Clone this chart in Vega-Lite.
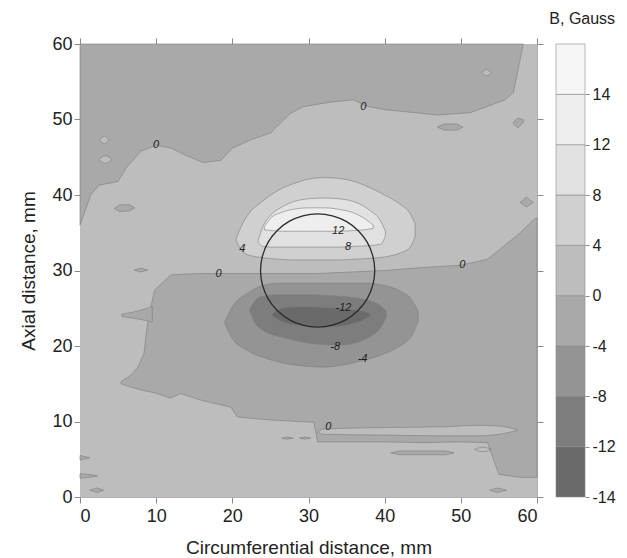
{
  "$schema": "https://vega.github.io/schema/vega-lite/v6.json",
  "padding": {"left": 19, "top": 11, "right": 5, "bottom": 0},
  "bounds": "flush",
  "spacing": 19,
  "title": {"text": "B, Gauss", "anchor": "end", "fontSize": 16, "fontWeight": "normal", "color": "#222", "offset": 8},
  "config": {
    "font": "Liberation Sans",
    "view": {"stroke": null},
    "axis": {"grid": false, "tickSize": 6, "tickColor": "#8a8a8a", "domainColor": "#9a9a9a", "domainWidth": 0.8, "labelFontSize": 18, "labelColor": "#222", "titleFontSize": 19, "titleFontWeight": "normal", "titleColor": "#222", "labelPadding": 2}
  },
  "datasets": {
    "regions": [
      {"id":"top","L":1,"b":"-4..0","x":0,"lo":36,"hi":60},
      {"id":"top","L":1,"b":"-4..0","x":1.4,"lo":40,"hi":60},
      {"id":"top","L":1,"b":"-4..0","x":2.5,"lo":41.3,"hi":60},
      {"id":"top","L":1,"b":"-4..0","x":5,"lo":41.8,"hi":60},
      {"id":"top","L":1,"b":"-4..0","x":6,"lo":43.5,"hi":60},
      {"id":"top","L":1,"b":"-4..0","x":8,"lo":45.8,"hi":60},
      {"id":"top","L":1,"b":"-4..0","x":10,"lo":46.6,"hi":60},
      {"id":"top","L":1,"b":"-4..0","x":12,"lo":46.2,"hi":60},
      {"id":"top","L":1,"b":"-4..0","x":14,"lo":45.2,"hi":60},
      {"id":"top","L":1,"b":"-4..0","x":16.2,"lo":44.3,"hi":60},
      {"id":"top","L":1,"b":"-4..0","x":18.5,"lo":44.6,"hi":60},
      {"id":"top","L":1,"b":"-4..0","x":20,"lo":46.2,"hi":60},
      {"id":"top","L":1,"b":"-4..0","x":22.4,"lo":47.3,"hi":60},
      {"id":"top","L":1,"b":"-4..0","x":25,"lo":48.2,"hi":60},
      {"id":"top","L":1,"b":"-4..0","x":27.6,"lo":50.8,"hi":60},
      {"id":"top","L":1,"b":"-4..0","x":29.3,"lo":51.7,"hi":60},
      {"id":"top","L":1,"b":"-4..0","x":32.9,"lo":52.3,"hi":60},
      {"id":"top","L":1,"b":"-4..0","x":35.9,"lo":52.6,"hi":60},
      {"id":"top","L":1,"b":"-4..0","x":37.5,"lo":51.8,"hi":60},
      {"id":"top","L":1,"b":"-4..0","x":40,"lo":51.3,"hi":60},
      {"id":"top","L":1,"b":"-4..0","x":43,"lo":51.0,"hi":60},
      {"id":"top","L":1,"b":"-4..0","x":46.9,"lo":50.6,"hi":60},
      {"id":"top","L":1,"b":"-4..0","x":51.2,"lo":50.9,"hi":60},
      {"id":"top","L":1,"b":"-4..0","x":53.4,"lo":51.7,"hi":60},
      {"id":"top","L":1,"b":"-4..0","x":55.8,"lo":52.6,"hi":60},
      {"id":"top","L":1,"b":"-4..0","x":56.9,"lo":53.6,"hi":60},
      {"id":"top","L":1,"b":"-4..0","x":57.8,"lo":58,"hi":60},
      {"id":"top","L":1,"b":"-4..0","x":58.2,"lo":60,"hi":60},

      {"id":"mid","L":1,"b":"-4..0","x":5.4,"lo":15.0,"hi":15.3},
      {"id":"mid","L":1,"b":"-4..0","x":6.5,"lo":14.6,"hi":16.0},
      {"id":"mid","L":1,"b":"-4..0","x":7.6,"lo":14.3,"hi":17.2},
      {"id":"mid","L":1,"b":"-4..0","x":8.4,"lo":14.1,"hi":19.0},
      {"id":"mid","L":1,"b":"-4..0","x":8.8,"lo":14.0,"hi":22.5},
      {"id":"mid","L":1,"b":"-4..0","x":9.3,"lo":13.9,"hi":25.2},
      {"id":"mid","L":1,"b":"-4..0","x":9.8,"lo":13.8,"hi":27.4},
      {"id":"mid","L":1,"b":"-4..0","x":11.9,"lo":13.1,"hi":29.4},
      {"id":"mid","L":1,"b":"-4..0","x":13.2,"lo":13.7,"hi":29.5},
      {"id":"mid","L":1,"b":"-4..0","x":16,"lo":12.8,"hi":29.6},
      {"id":"mid","L":1,"b":"-4..0","x":19.8,"lo":11.9,"hi":29.6},
      {"id":"mid","L":1,"b":"-4..0","x":20.7,"lo":10.6,"hi":29.6},
      {"id":"mid","L":1,"b":"-4..0","x":25,"lo":10.2,"hi":29.6},
      {"id":"mid","L":1,"b":"-4..0","x":30.7,"lo":9.9,"hi":29.6},
      {"id":"mid","L":1,"b":"-4..0","x":31.2,"lo":7.3,"hi":29.6},
      {"id":"mid","L":1,"b":"-4..0","x":40,"lo":7.3,"hi":30.0},
      {"id":"mid","L":1,"b":"-4..0","x":45,"lo":7.2,"hi":30.4},
      {"id":"mid","L":1,"b":"-4..0","x":50,"lo":7.3,"hi":30.7},
      {"id":"mid","L":1,"b":"-4..0","x":53.5,"lo":7.2,"hi":31.5},
      {"id":"mid","L":1,"b":"-4..0","x":55,"lo":3.0,"hi":32.7},
      {"id":"mid","L":1,"b":"-4..0","x":57.8,"lo":2.6,"hi":35.0},
      {"id":"mid","L":1,"b":"-4..0","x":59.5,"lo":2.6,"hi":36.7},
      {"id":"mid","L":1,"b":"-4..0","x":60,"lo":2.6,"hi":37.0},

      {"id":"spike","L":1,"b":"-4..0","x":5.5,"lo":23.9,"hi":24.2},
      {"id":"spike","L":1,"b":"-4..0","x":7.5,"lo":23.6,"hi":24.6},
      {"id":"spike","L":1,"b":"-4..0","x":9.5,"lo":23.2,"hi":25.2},

      {"id":"p1","L":1,"b":"-4..0","x":4.5,"lo":38.2,"hi":38.2},
      {"id":"p1","L":1,"b":"-4..0","x":5.2,"lo":37.8,"hi":38.7},
      {"id":"p1","L":1,"b":"-4..0","x":6.5,"lo":37.9,"hi":38.7},
      {"id":"p1","L":1,"b":"-4..0","x":7.2,"lo":38.3,"hi":38.3},
      {"id":"p2","L":1,"b":"-4..0","x":46.9,"lo":49.0,"hi":49.0},
      {"id":"p2","L":1,"b":"-4..0","x":47.8,"lo":48.6,"hi":49.4},
      {"id":"p2","L":1,"b":"-4..0","x":49.5,"lo":48.6,"hi":49.4},
      {"id":"p2","L":1,"b":"-4..0","x":50.3,"lo":49.0,"hi":49.0},
      {"id":"p3","L":1,"b":"-4..0","x":56.9,"lo":49.4,"hi":49.6},
      {"id":"p3","L":1,"b":"-4..0","x":57.5,"lo":48.9,"hi":50.2},
      {"id":"p3","L":1,"b":"-4..0","x":58.2,"lo":49.6,"hi":50.0},
      {"id":"p4","L":1,"b":"-4..0","x":40.8,"lo":5.85,"hi":5.85},
      {"id":"p4","L":1,"b":"-4..0","x":42,"lo":5.6,"hi":6.1},
      {"id":"p4","L":1,"b":"-4..0","x":48,"lo":5.6,"hi":6.1},
      {"id":"p4","L":1,"b":"-4..0","x":49.1,"lo":5.85,"hi":5.85},
      {"id":"p5","L":1,"b":"-4..0","x":53.8,"lo":0.9,"hi":0.9},
      {"id":"p5","L":1,"b":"-4..0","x":54.8,"lo":0.6,"hi":1.2},
      {"id":"p5","L":1,"b":"-4..0","x":56,"lo":0.9,"hi":0.9},
      {"id":"p6","L":1,"b":"-4..0","x":0,"lo":2.5,"hi":3.1},
      {"id":"p6","L":1,"b":"-4..0","x":1.2,"lo":2.6,"hi":3.0},
      {"id":"p6","L":1,"b":"-4..0","x":2.3,"lo":2.8,"hi":2.8},
      {"id":"p7","L":1,"b":"-4..0","x":1.3,"lo":0.9,"hi":0.9},
      {"id":"p7","L":1,"b":"-4..0","x":2.2,"lo":0.6,"hi":1.2},
      {"id":"p7","L":1,"b":"-4..0","x":3.1,"lo":0.9,"hi":0.9},
      {"id":"p8","L":1,"b":"-4..0","x":0,"lo":4.9,"hi":5.5},
      {"id":"p8","L":1,"b":"-4..0","x":1.3,"lo":5.2,"hi":5.2},
      {"id":"p9","L":1,"b":"-4..0","x":7.1,"lo":30.05,"hi":30.05},
      {"id":"p9","L":1,"b":"-4..0","x":8,"lo":29.8,"hi":30.3},
      {"id":"p9","L":1,"b":"-4..0","x":8.9,"lo":30.05,"hi":30.05},
      {"id":"p10","L":1,"b":"-4..0","x":57.8,"lo":39,"hi":39},
      {"id":"p10","L":1,"b":"-4..0","x":58.6,"lo":38.4,"hi":39.7},
      {"id":"p10","L":1,"b":"-4..0","x":59.5,"lo":39,"hi":39},
      {"id":"p11","L":1,"b":"-4..0","x":26.5,"lo":7.8,"hi":7.8},
      {"id":"p11","L":1,"b":"-4..0","x":27.2,"lo":7.65,"hi":7.95},
      {"id":"p11","L":1,"b":"-4..0","x":28,"lo":7.8,"hi":7.8},
      {"id":"p12","L":1,"b":"-4..0","x":28.8,"lo":7.8,"hi":7.8},
      {"id":"p12","L":1,"b":"-4..0","x":29.5,"lo":7.65,"hi":7.95},
      {"id":"p12","L":1,"b":"-4..0","x":30.3,"lo":7.8,"hi":7.8},

      {"id":"ls","L":2,"b":"0..4","x":31.2,"lo":8.6,"hi":8.6},
      {"id":"ls","L":2,"b":"0..4","x":32,"lo":8.3,"hi":9.0},
      {"id":"ls","L":2,"b":"0..4","x":40,"lo":8.2,"hi":9.2},
      {"id":"ls","L":2,"b":"0..4","x":48,"lo":8.1,"hi":9.3},
      {"id":"ls","L":2,"b":"0..4","x":52,"lo":8.1,"hi":9.5},
      {"id":"ls","L":2,"b":"0..4","x":55,"lo":8.3,"hi":9.4},
      {"id":"ls","L":2,"b":"0..4","x":57.4,"lo":8.8,"hi":8.9},
      {"id":"lp1","L":2,"b":"0..4","x":2.6,"lo":47.3,"hi":47.3},
      {"id":"lp1","L":2,"b":"0..4","x":3.2,"lo":46.8,"hi":47.8},
      {"id":"lp1","L":2,"b":"0..4","x":3.8,"lo":47.3,"hi":47.3},
      {"id":"lp2","L":2,"b":"0..4","x":2.5,"lo":44.7,"hi":44.7},
      {"id":"lp2","L":2,"b":"0..4","x":3.3,"lo":44.2,"hi":45.2},
      {"id":"lp2","L":2,"b":"0..4","x":4.2,"lo":44.7,"hi":44.7},
      {"id":"lp3","L":2,"b":"0..4","x":52.7,"lo":56.2,"hi":56.2},
      {"id":"lp3","L":2,"b":"0..4","x":53.4,"lo":55.8,"hi":56.6},
      {"id":"lp3","L":2,"b":"0..4","x":54,"lo":56.2,"hi":56.2},
      {"id":"lp4","L":2,"b":"0..4","x":51.8,"lo":6.3,"hi":6.3},
      {"id":"lp4","L":2,"b":"0..4","x":52.9,"lo":6.0,"hi":6.6},
      {"id":"lp4","L":2,"b":"0..4","x":54,"lo":6.3,"hi":6.3},

      {"id":"pos1","L":2,"b":"4..8","x":20.5,"lo":34.0,"hi":34.2},
      {"id":"pos1","L":2,"b":"4..8","x":21.2,"lo":32.7,"hi":35.9},
      {"id":"pos1","L":2,"b":"4..8","x":22,"lo":32.1,"hi":37.3},
      {"id":"pos1","L":2,"b":"4..8","x":24,"lo":31.7,"hi":39.2},
      {"id":"pos1","L":2,"b":"4..8","x":26,"lo":31.5,"hi":40.6},
      {"id":"pos1","L":2,"b":"4..8","x":28,"lo":31.4,"hi":41.5},
      {"id":"pos1","L":2,"b":"4..8","x":30,"lo":31.4,"hi":42.1},
      {"id":"pos1","L":2,"b":"4..8","x":32,"lo":31.4,"hi":42.3},
      {"id":"pos1","L":2,"b":"4..8","x":34,"lo":31.4,"hi":42.2},
      {"id":"pos1","L":2,"b":"4..8","x":36,"lo":31.5,"hi":41.8},
      {"id":"pos1","L":2,"b":"4..8","x":38,"lo":31.6,"hi":41.0},
      {"id":"pos1","L":2,"b":"4..8","x":40,"lo":31.8,"hi":40.0},
      {"id":"pos1","L":2,"b":"4..8","x":42,"lo":32.3,"hi":38.8},
      {"id":"pos1","L":2,"b":"4..8","x":43.3,"lo":33.0,"hi":37.6},
      {"id":"pos1","L":2,"b":"4..8","x":44,"lo":34.5,"hi":36.2},

      {"id":"neg1","L":2,"b":"-8..-4","x":19,"lo":23.0,"hi":23.2},
      {"id":"neg1","L":2,"b":"-8..-4","x":20,"lo":21.0,"hi":25.2},
      {"id":"neg1","L":2,"b":"-8..-4","x":22,"lo":19.4,"hi":27.0},
      {"id":"neg1","L":2,"b":"-8..-4","x":24,"lo":18.5,"hi":28.0},
      {"id":"neg1","L":2,"b":"-8..-4","x":26,"lo":17.9,"hi":28.3},
      {"id":"neg1","L":2,"b":"-8..-4","x":28,"lo":17.5,"hi":28.3},
      {"id":"neg1","L":2,"b":"-8..-4","x":30,"lo":17.3,"hi":28.3},
      {"id":"neg1","L":2,"b":"-8..-4","x":32,"lo":17.2,"hi":28.3},
      {"id":"neg1","L":2,"b":"-8..-4","x":34,"lo":17.4,"hi":28.3},
      {"id":"neg1","L":2,"b":"-8..-4","x":36,"lo":17.8,"hi":28.3},
      {"id":"neg1","L":2,"b":"-8..-4","x":38,"lo":18.3,"hi":28.3},
      {"id":"neg1","L":2,"b":"-8..-4","x":40,"lo":19.0,"hi":28.0},
      {"id":"neg1","L":2,"b":"-8..-4","x":42,"lo":20.0,"hi":27.3},
      {"id":"neg1","L":2,"b":"-8..-4","x":43.5,"lo":21.3,"hi":26.2},
      {"id":"neg1","L":2,"b":"-8..-4","x":44.4,"lo":23.2,"hi":24.6},

      {"id":"pos2","L":3,"b":"8..12","x":23.4,"lo":33.7,"hi":34.0},
      {"id":"pos2","L":3,"b":"8..12","x":24,"lo":33.2,"hi":35.8},
      {"id":"pos2","L":3,"b":"8..12","x":25,"lo":33.1,"hi":37.3},
      {"id":"pos2","L":3,"b":"8..12","x":26.5,"lo":33.1,"hi":38.4},
      {"id":"pos2","L":3,"b":"8..12","x":28,"lo":33.1,"hi":39.1},
      {"id":"pos2","L":3,"b":"8..12","x":30,"lo":33.1,"hi":39.5},
      {"id":"pos2","L":3,"b":"8..12","x":32,"lo":33.1,"hi":39.6},
      {"id":"pos2","L":3,"b":"8..12","x":34,"lo":33.1,"hi":39.5},
      {"id":"pos2","L":3,"b":"8..12","x":36,"lo":33.2,"hi":39.1},
      {"id":"pos2","L":3,"b":"8..12","x":38,"lo":33.3,"hi":38.0},
      {"id":"pos2","L":3,"b":"8..12","x":39.5,"lo":33.5,"hi":36.5},
      {"id":"pos2","L":3,"b":"8..12","x":40.1,"lo":34.6,"hi":35.2},

      {"id":"neg2","L":3,"b":"-12..-8","x":22.3,"lo":24.6,"hi":24.9},
      {"id":"neg2","L":3,"b":"-12..-8","x":23,"lo":23.0,"hi":26.0},
      {"id":"neg2","L":3,"b":"-12..-8","x":24,"lo":22.1,"hi":26.6},
      {"id":"neg2","L":3,"b":"-12..-8","x":26,"lo":21.3,"hi":26.8},
      {"id":"neg2","L":3,"b":"-12..-8","x":28,"lo":20.8,"hi":26.8},
      {"id":"neg2","L":3,"b":"-12..-8","x":30,"lo":20.4,"hi":26.8},
      {"id":"neg2","L":3,"b":"-12..-8","x":32,"lo":20.2,"hi":26.7},
      {"id":"neg2","L":3,"b":"-12..-8","x":34,"lo":20.1,"hi":26.6},
      {"id":"neg2","L":3,"b":"-12..-8","x":36,"lo":20.4,"hi":26.4},
      {"id":"neg2","L":3,"b":"-12..-8","x":38,"lo":21.2,"hi":26.0},
      {"id":"neg2","L":3,"b":"-12..-8","x":39.5,"lo":22.5,"hi":25.3},
      {"id":"neg2","L":3,"b":"-12..-8","x":40.2,"lo":23.8,"hi":24.6},

      {"id":"pos3","L":4,"b":"12..14","x":24.2,"lo":35.4,"hi":35.8},
      {"id":"pos3","L":4,"b":"12..14","x":25,"lo":35.3,"hi":36.9},
      {"id":"pos3","L":4,"b":"12..14","x":26.5,"lo":35.2,"hi":37.7},
      {"id":"pos3","L":4,"b":"12..14","x":28,"lo":35.2,"hi":38.1},
      {"id":"pos3","L":4,"b":"12..14","x":30,"lo":35.2,"hi":38.3},
      {"id":"pos3","L":4,"b":"12..14","x":32,"lo":35.2,"hi":38.3},
      {"id":"pos3","L":4,"b":"12..14","x":34,"lo":35.2,"hi":38.1},
      {"id":"pos3","L":4,"b":"12..14","x":36,"lo":35.3,"hi":37.6},
      {"id":"pos3","L":4,"b":"12..14","x":37.5,"lo":35.4,"hi":36.8},
      {"id":"pos3","L":4,"b":"12..14","x":38.5,"lo":35.6,"hi":36.0},

      {"id":"neg3","L":4,"b":"-14..-12","x":25.2,"lo":24.0,"hi":24.3},
      {"id":"neg3","L":4,"b":"-14..-12","x":26.5,"lo":23.2,"hi":25.0},
      {"id":"neg3","L":4,"b":"-14..-12","x":28,"lo":22.8,"hi":25.2},
      {"id":"neg3","L":4,"b":"-14..-12","x":30,"lo":22.6,"hi":25.2},
      {"id":"neg3","L":4,"b":"-14..-12","x":32,"lo":22.5,"hi":25.1},
      {"id":"neg3","L":4,"b":"-14..-12","x":34,"lo":22.6,"hi":25.0},
      {"id":"neg3","L":4,"b":"-14..-12","x":36,"lo":23.0,"hi":24.8},
      {"id":"neg3","L":4,"b":"-14..-12","x":37.5,"lo":23.6,"hi":24.5},
      {"id":"neg3","L":4,"b":"-14..-12","x":38.2,"lo":24.1,"hi":24.2}
    ],
    "circle": [
      {"i":0,"x":38.70,"y":30.00},{"i":1,"x":38.44,"y":31.94},{"i":2,"x":37.70,"y":33.75},{"i":3,"x":36.50,"y":35.30},
      {"i":4,"x":34.95,"y":36.50},{"i":5,"x":33.14,"y":37.24},{"i":6,"x":31.20,"y":37.50},{"i":7,"x":29.26,"y":37.24},
      {"i":8,"x":27.45,"y":36.50},{"i":9,"x":25.90,"y":35.30},{"i":10,"x":24.71,"y":33.75},{"i":11,"x":23.96,"y":31.94},
      {"i":12,"x":23.70,"y":30.00},{"i":13,"x":23.96,"y":28.06},{"i":14,"x":24.71,"y":26.25},{"i":15,"x":25.90,"y":24.70},
      {"i":16,"x":27.45,"y":23.50},{"i":17,"x":29.26,"y":22.76},{"i":18,"x":31.20,"y":22.50},{"i":19,"x":33.14,"y":22.76},
      {"i":20,"x":34.95,"y":23.50},{"i":21,"x":36.50,"y":24.70},{"i":22,"x":37.70,"y":26.25},{"i":23,"x":38.44,"y":28.06}
    ],
    "labels": [
      {"x":10,"y":46.6,"t":"0"},{"x":37.2,"y":51.7,"t":"0"},{"x":18.2,"y":29.6,"t":"0"},{"x":50.2,"y":30.7,"t":"0"},
      {"x":32.6,"y":9.3,"t":"0"},{"x":21.3,"y":32.8,"t":"4"},{"x":33.9,"y":35.2,"t":"12"},{"x":35.2,"y":33.1,"t":"8"},
      {"x":34.6,"y":25.0,"t":"-12"},{"x":33.5,"y":19.9,"t":"-8"},{"x":37.1,"y":18.3,"t":"-4"}
    ],
    "legend": [
      {"b":"-14..-12","r":0,"r2":1},{"b":"-12..-8","r":1,"r2":2},{"b":"-8..-4","r":2,"r2":3},
      {"b":"-4..0","r":3,"r2":4},{"b":"0..4","r":4,"r2":5},{"b":"4..8","r":5,"r2":6},
      {"b":"8..12","r":6,"r2":7},{"b":"12..14","r":7,"r2":8},{"b":"14..18","r":8,"r2":9}
    ]
  },
  "hconcat": [
    {
      "width": 457,
      "height": 453,
      "layer": [
        {
          "data": {"values": [{"x": 0, "x2": 60, "y": 0, "y2": 60, "b": "0..4"}]},
          "mark": {"type": "rect"},
          "encoding": {
            "x": {"field": "x", "type": "quantitative", "scale": {"domain": [0, 60], "nice": false, "zero": false},
                  "axis": {"orient": "top", "labels": false, "title": null, "values": [0,10,20,30,40,50,60]}},
            "x2": {"field": "x2"},
            "y": {"field": "y", "type": "quantitative", "scale": {"domain": [0, 60], "nice": false, "zero": false},
                  "axis": {"orient": "right", "labels": false, "title": null, "values": [0,10,20,30,40,50,60]}},
            "y2": {"field": "y2"},
            "color": {"field": "b", "type": "nominal", "legend": null,
                      "scale": {"domain": ["-14..-12","-12..-8","-8..-4","-4..0","0..4","4..8","8..12","12..14","14..18"],
                                "range": ["#6a6a6a","#7d7d7d","#949494","#a9a9a9","#bdbdbd","#d0d0d0","#e1e1e1","#eeeeee","#f6f6f6"]}}
          }
        },
        {
          "data": {"name": "regions"},
          "transform": [{"filter": "datum.L == 1"}],
          "mark": {"type": "area", "stroke": "#7c7c7c", "strokeWidth": 0.6, "interpolate": "linear"},
          "encoding": {
            "x": {"field": "x", "type": "quantitative", "axis": {"orient": "bottom", "title": "Circumferential distance, mm", "values": [0,10,20,30,40,50,60], "titlePadding": 13, "labelPadding": 4}},
            "y": {"field": "lo", "type": "quantitative", "stack": null, "axis": {"orient": "left", "title": "Axial distance, mm", "values": [0,10,20,30,40,50,60], "titlePadding": 13}},
            "y2": {"field": "hi"},
            "color": {"field": "b", "type": "nominal", "legend": null},
            "detail": {"field": "id"}
          }
        },
        {
          "data": {"name": "regions"},
          "transform": [{"filter": "datum.L == 2"}],
          "mark": {"type": "area", "stroke": "#7c7c7c", "strokeWidth": 0.6, "interpolate": "monotone"},
          "encoding": {
            "x": {"field": "x", "type": "quantitative", "axis": null},
            "y": {"field": "lo", "type": "quantitative", "stack": null, "axis": null},
            "y2": {"field": "hi"},
            "color": {"field": "b", "type": "nominal", "legend": null},
            "detail": {"field": "id"}
          }
        },
        {
          "data": {"name": "regions"},
          "transform": [{"filter": "datum.L == 3"}],
          "mark": {"type": "area", "stroke": "#7c7c7c", "strokeWidth": 0.6, "interpolate": "monotone"},
          "encoding": {
            "x": {"field": "x", "type": "quantitative", "axis": null},
            "y": {"field": "lo", "type": "quantitative", "stack": null, "axis": null},
            "y2": {"field": "hi"},
            "color": {"field": "b", "type": "nominal", "legend": null},
            "detail": {"field": "id"}
          }
        },
        {
          "data": {"name": "regions"},
          "transform": [{"filter": "datum.L == 4"}],
          "mark": {"type": "area", "stroke": "#7c7c7c", "strokeWidth": 0.6, "interpolate": "monotone"},
          "encoding": {
            "x": {"field": "x", "type": "quantitative", "axis": null},
            "y": {"field": "lo", "type": "quantitative", "stack": null, "axis": null},
            "y2": {"field": "hi"},
            "color": {"field": "b", "type": "nominal", "legend": null},
            "detail": {"field": "id"}
          }
        },
        {
          "data": {"name": "circle"},
          "mark": {"type": "line", "interpolate": "cardinal-closed", "stroke": "#2a2a2a", "strokeWidth": 1.3},
          "encoding": {
            "x": {"field": "x", "type": "quantitative", "axis": null},
            "y": {"field": "y", "type": "quantitative", "axis": null},
            "order": {"field": "i", "type": "quantitative"}
          }
        },
        {
          "data": {"name": "labels"},
          "mark": {"type": "text", "fontSize": 11, "fontStyle": "italic", "color": "#1e1e1e"},
          "encoding": {
            "x": {"field": "x", "type": "quantitative", "axis": null},
            "y": {"field": "y", "type": "quantitative", "axis": null},
            "text": {"field": "t"}
          }
        }
      ],
      "resolve": {"axis": {"x": "independent", "y": "independent"}}
    },
    {
      "width": 29,
      "height": 453,
      "data": {"name": "legend"},
      "mark": {"type": "rect", "stroke": "#8a8a8a", "strokeWidth": 0.6},
      "encoding": {
        "y": {"field": "r", "type": "quantitative", "scale": {"domain": [0, 9], "nice": false, "zero": false},
              "axis": {"orient": "right", "values": [0,1,2,3,4,5,6,7,8], "labelExpr": "['-14','-12','-8','-4','0','4','8','12','14'][datum.value]", "title": null, "domain": false, "tickSize": 4, "labelFontSize": 16, "labelPadding": 3}},
        "y2": {"field": "r2"},
        "color": {"field": "b", "type": "nominal", "legend": null}
      }
    }
  ]
}
